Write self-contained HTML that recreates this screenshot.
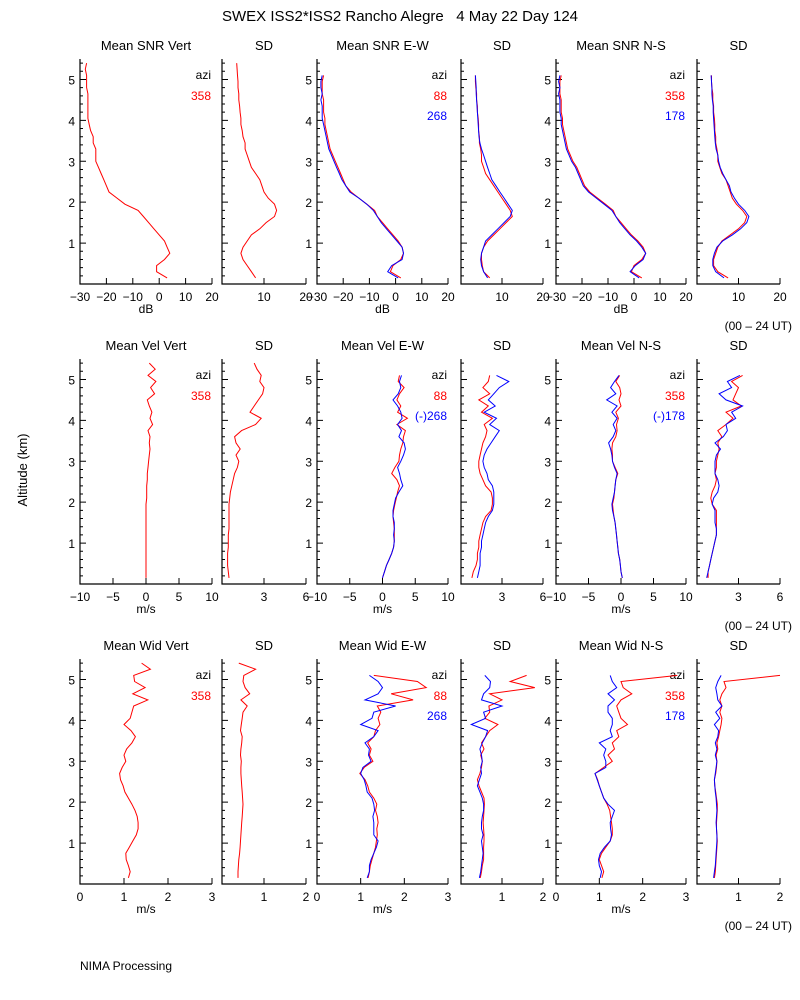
<!DOCTYPE html>
<html><head><meta charset="utf-8"><style>
html,body{margin:0;padding:0;background:#fff;}
svg{display:block;font-family:"Liberation Sans",sans-serif;}
</style></head><body>
<svg id="chart" width="800" height="1000" viewBox="0 0 800 1000" xmlns="http://www.w3.org/2000/svg">
<rect width="800" height="1000" fill="#fff"/>
<text x="400" y="21" font-size="15" text-anchor="middle" style="white-space:pre">SWEX ISS2*ISS2 Rancho Alegre   4 May 22 Day 124</text>
<text x="27" y="470" font-size="13" text-anchor="middle" transform="rotate(-90 27 470)">Altitude (km)</text>
<text x="80" y="970" font-size="12">NIMA Processing</text>
<text x="792" y="330" font-size="12" text-anchor="end">(00 – 24 UT)</text>
<text x="792" y="630" font-size="12" text-anchor="end">(00 – 24 UT)</text>
<text x="792" y="930" font-size="12" text-anchor="end">(00 – 24 UT)</text>
<g id="plots"></g>
</svg>
<script>
const altitudes = [0.15,0.30,0.45,0.60,0.75,0.90,1.05,1.20,1.35,1.50,1.65,1.80,1.95,2.10,2.25,2.40,2.55,2.70,2.85,3.00,3.15,3.30,3.45,3.60,3.75,3.90,4.05,4.20,4.35,4.50,4.65,4.80,4.95,5.10,5.25,5.40];

// Row 1: SNR (dB)
const snrVert = [3,-1,-1,2,4,3,2,0,-2,-4,-6,-8,-13,-16,-19,-20,-21,-22,-23,-24,-24,-24,-25,-25,-26,-26.5,-27,-27,-27,-27,-27,-27.5,-27.5,-27.5,-28,-27.5];
const snrVertSd = [8,7,6,5,4.5,5,6,7,9,10.5,12.5,13,12.5,11,10,9.5,9,8,7,6.5,6,5.5,5.5,5,4.8,4.5,4.5,4.3,4.2,4,4,3.8,3.8,3.7,3.6,3.5];
const snrEw88 = [2,-2,-1,2,3,2.5,1,-1,-3,-5,-7,-8,-11,-14,-17,-19,-20,-21,-22,-23,-24,-25,-25.5,-26,-26.5,-27,-27,-27.5,-27.5,-27.5,-28,-28,-28,-27.5];
const snrEw268 = [1,-3,-1.5,2.5,3,2.5,0.5,-1.5,-3.5,-5.5,-7,-8.5,-11,-14,-17.5,-19,-20.5,-21.5,-22.5,-23.5,-24.5,-25.5,-26,-26.5,-27,-27.5,-28,-28,-28,-28.5,-28,-28.5,-28.5,-28];
const snrEwSd88 = [7,5.5,5.2,5,5,5.5,6.5,8,9.5,11,12.5,12,11,10,9,8,7,6,5.5,5,5,4.8,4.5,4.5,4.3,4.3,4.2,4,4,3.8,3.8,3.6,3.5,3.5];
const snrEwSd268 = [6.5,5.5,5,4.8,5,5.5,6,7.5,9,10.5,12,12.5,11.5,10.5,9.5,8.5,7.5,7,6.5,6,5.5,5,4.6,4.4,4.3,4.2,4.1,4,3.9,3.8,3.7,3.7,3.6,3.5];
const snrNs358 = [3,-1,0,3,4.5,3.5,1.5,-1,-3,-5,-7,-8,-11,-14,-17,-19,-20,-21,-22,-23.5,-24.5,-25.5,-26,-26.5,-27,-27.5,-27.5,-28,-28,-28,-28.5,-28.5,-28.5,-28];
const snrNs178 = [2,-1.5,0.5,3.5,4.5,3,1,-1.5,-3.5,-5.5,-7,-8.5,-11.5,-14.5,-17.5,-19.5,-20.5,-21.5,-22.5,-24,-25,-26,-26.5,-27,-27.5,-28,-28,-28.5,-28.5,-28.5,-29,-28.5,-29,-28.5];
const snrNsSd358 = [7.5,5,4,4,4.5,5,6,8,10,11.5,12,11,9.5,8.5,8,7.5,7,6,5.5,5,5,4.8,4.5,4.5,4.3,4.3,4.2,4,4,3.8,3.8,3.6,3.5,3.5];
const snrNsSd178 = [6.5,4.5,3.8,3.8,4.2,4.8,6.2,8.5,10.5,12,12.5,11.5,10,9,8.2,7.8,7,6.2,5.6,5.2,5,4.6,4.4,4.3,4.2,4.1,4,3.9,3.9,3.7,3.6,3.6,3.5,3.4];

// Row 2: velocity (m/s)
const velVert = [0,0,0,0,0,0,0,0,0,0,0,0,0,0.1,0.1,0.1,0.2,0.2,0.3,0.4,0.5,0.6,0.5,0.6,0.3,1,0.6,0.9,0.5,0.2,1.3,0.7,1.5,0.3,1.4,0.5];
const velVertSd = [0.5,0.45,0.4,0.4,0.4,0.45,0.45,0.45,0.5,0.5,0.5,0.5,0.5,0.55,0.6,0.7,0.8,0.9,1.1,1.2,1.0,1.3,1.0,0.9,1.4,2.4,2.8,2.0,2.3,2.6,2.9,3.0,2.7,2.8,2.5,2.3];
const velEw88 = [0,0.3,0.6,1.0,1.4,1.7,1.8,1.8,1.8,1.7,1.6,1.7,1.9,2.1,2.3,2.6,2.2,1.4,1.9,2.5,2.6,2.8,3.1,3.2,3.5,2.2,3.8,2.3,2.8,2.2,2.6,3.3,2.4,2.6];
const velEw268 = [0,0.3,0.6,1.0,1.4,1.7,1.8,1.7,1.8,1.8,1.6,1.6,1.8,2.0,2.5,3.1,2.8,2.6,2.3,2.8,3.2,3.5,3.3,2.5,2.9,2.3,3.0,2.8,2.3,1.6,2.4,2.8,2.6,2.9];
const velEwSd88 = [0.8,0.9,1.1,1.2,1.2,1.3,1.3,1.4,1.5,1.6,1.8,2.2,2.3,2.3,2.2,1.8,1.6,1.4,1.3,1.3,1.4,1.5,1.6,1.8,1.9,1.7,2.3,1.5,2.0,1.3,2.1,1.6,2.0,2.1];
const velEwSd268 = [1.2,1.3,1.4,1.4,1.4,1.5,1.5,1.6,1.7,1.8,2.0,2.3,2.4,2.4,2.4,2.3,2.0,1.9,1.7,1.6,1.7,1.9,2.2,2.5,2.8,2.1,2.6,1.7,2.5,2.0,2.4,2.8,3.5,2.6];
const velNs358 = [0.2,0,-0.1,-0.2,-0.4,-0.5,-0.6,-0.7,-0.8,-0.9,-1.1,-1.2,-1.3,-1.1,-1.0,-0.9,-0.8,-0.5,-0.9,-1.3,-1.3,-1.4,-1.3,-0.8,-0.6,-0.7,-0.4,-0.8,0,-0.3,0,-0.2,-0.8,-0.2];
const velNs178 = [0.2,0,-0.1,-0.2,-0.4,-0.5,-0.6,-0.7,-0.8,-0.9,-1.1,-1.3,-1.4,-1.2,-1.0,-0.9,-0.8,-0.6,-1.0,-1.3,-1.4,-1.6,-1.9,-1.2,-0.8,-1.2,-0.6,-1.4,-0.6,-2.2,-0.8,-1.6,-1.0,-0.3];
const velNsSd358 = [0.8,0.8,0.9,1.0,1.1,1.2,1.3,1.4,1.4,1.4,1.4,1.4,1.1,1.0,1.1,1.3,1.4,1.3,1.4,1.4,1.5,1.6,1.5,1.8,1.5,2.1,2.6,2.1,3.2,2.6,2.8,3.0,2.5,3.3];
const velNsSd178 = [0.7,0.8,0.9,1.0,1.1,1.2,1.3,1.4,1.4,1.3,1.3,1.3,1.1,1.2,1.5,1.6,1.5,1.3,1.3,1.3,1.4,1.7,1.3,1.9,2.2,2.1,2.8,2.5,3.3,2.1,1.6,2.5,2.2,3.1];

// Row 3: spectral width (m/s)
const widVert = [1.1,1.14,1.1,1.05,1.04,1.12,1.2,1.28,1.32,1.32,1.3,1.25,1.18,1.1,1.02,0.98,0.92,0.9,0.96,1.04,1.0,1.06,1.18,1.26,1.16,1.0,1.14,1.18,1.22,1.54,1.2,1.48,1.24,1.22,1.6,1.4];
const widVertSd = [0.38,0.38,0.39,0.4,0.42,0.43,0.44,0.45,0.46,0.47,0.48,0.49,0.5,0.49,0.48,0.47,0.46,0.45,0.45,0.46,0.44,0.45,0.47,0.48,0.44,0.46,0.48,0.5,0.6,0.45,0.66,0.55,0.5,0.52,0.8,0.4];
const widEw88 = [1.17,1.2,1.22,1.26,1.3,1.34,1.36,1.38,1.37,1.4,1.38,1.34,1.37,1.3,1.2,1.16,1.1,0.98,1.08,1.28,1.2,1.24,1.16,1.3,1.34,1.44,1.4,1.46,1.38,2.2,1.7,2.5,2.3,1.3];
const widEw268 = [1.15,1.2,1.2,1.24,1.3,1.36,1.4,1.3,1.3,1.3,1.28,1.32,1.3,1.26,1.15,1.12,1.08,1.0,1.05,1.24,1.18,1.2,1.1,1.3,1.4,1.0,1.26,1.3,1.8,1.1,1.4,1.5,1.4,1.2];
const widEwSd88 = [0.47,0.5,0.52,0.55,0.55,0.55,0.56,0.56,0.55,0.54,0.55,0.56,0.57,0.56,0.5,0.44,0.4,0.46,0.5,0.52,0.48,0.56,0.5,0.6,0.7,0.9,0.58,0.7,0.68,1.0,0.7,1.8,1.2,1.6];
const widEwSd268 = [0.45,0.48,0.5,0.52,0.54,0.52,0.5,0.54,0.5,0.5,0.52,0.55,0.55,0.52,0.46,0.4,0.45,0.5,0.48,0.52,0.5,0.46,0.52,0.6,0.65,0.25,0.6,0.55,1.0,0.5,0.55,0.7,0.72,0.58];
const widNs358 = [1.06,1.1,1.05,1.0,1.05,1.15,1.25,1.3,1.3,1.28,1.26,1.24,1.18,1.1,1.05,1.0,0.96,0.9,1.1,1.3,1.2,1.35,1.3,1.45,1.4,1.65,1.5,1.45,1.4,1.5,1.75,1.55,1.5,2.8];
const widNs178 = [1.02,1.05,1.0,0.98,1.02,1.12,1.25,1.28,1.26,1.25,1.3,1.35,1.2,1.1,1.05,1.0,0.95,0.9,1.15,1.15,1.1,1.15,1.0,1.3,1.25,1.3,1.3,1.2,1.2,1.35,1.2,1.4,1.3,1.25];
const widNsSd358 = [0.42,0.44,0.45,0.46,0.47,0.48,0.49,0.48,0.47,0.47,0.48,0.49,0.49,0.47,0.45,0.43,0.42,0.45,0.47,0.48,0.46,0.5,0.48,0.52,0.55,0.58,0.6,0.55,0.6,0.55,0.6,0.7,0.65,2.0];
const widNsSd178 = [0.4,0.42,0.44,0.45,0.46,0.47,0.48,0.48,0.47,0.46,0.47,0.48,0.47,0.46,0.44,0.43,0.42,0.44,0.46,0.48,0.44,0.48,0.44,0.5,0.52,0.42,0.55,0.45,0.6,0.5,0.48,0.45,0.5,0.58];

const panelTitles = [
  ["Mean SNR Vert","SD","Mean SNR E-W","SD","Mean SNR N-S","SD"],
  ["Mean Vel Vert","SD","Mean Vel E-W","SD","Mean Vel N-S","SD"],
  ["Mean Wid Vert","SD","Mean Wid E-W","SD","Mean Wid N-S","SD"]];
const meanTicks = [[-30,-20,-10,0,10,20],[-10,-5,0,5,10],[0,1,2,3]];
const sdTicks = [[10,20],[3,6],[1,2]];
const meanDomains = [[-30,20],[-10,10],[0,3]];
const sdDomains = [[0,20],[0,6],[0,2]];
const units = ["dB","m/s","m/s"];
const altTicks = [1,2,3,4,5];
const legendEw = [["88","268"],["88","(-)268"],["88","268"]];
const legendNs = [["358","178"],["358","(-)178"],["358","178"]];
const rowSeries = [
  [[snrVert],[snrVertSd],[snrEw88,snrEw268],[snrEwSd88,snrEwSd268],[snrNs358,snrNs178],[snrNsSd358,snrNsSd178]],
  [[velVert],[velVertSd],[velEw88,velEw268],[velEwSd88,velEwSd268],[velNs358,velNs178],[velNsSd358,velNsSd178]],
  [[widVert],[widVertSd],[widEw88,widEw268],[widEwSd88,widEwSd268],[widNs358,widNs178],[widNsSd358,widNsSd178]]];

const NS = "http://www.w3.org/2000/svg";
const root = document.getElementById("plots");
const panelX = [[80,212],[222,306],[317,448],[461,543],[556,686],[697,780]];
const colors = ["#ff0000","#0000ff"];
function mk(tag, attrs, parent){ const e=document.createElementNS(NS,tag); for(const k in attrs) e.setAttribute(k,attrs[k]); (parent||root).appendChild(e); return e; }

for(let r=0;r<3;r++){
  const top=59+300*r, bot=284+300*r;
  const yScale = a => bot - (a/5.5)*(bot-top);
  for(let p=0;p<6;p++){
    const isMean = p%2===0;
    const dom = isMean?meanDomains[r]:sdDomains[r];
    const [x0,x1]=panelX[p];
    const xScale = v => x0 + (v-dom[0])/(dom[1]-dom[0])*(x1-x0);
    const g = mk("g",{});
    
    
    const t = mk("text",{x:(x0+x1)/2,y:top-9,"font-size":13,"text-anchor":"middle"},g);
    t.textContent = panelTitles[r][p];
    
    
    const ax = mk("path",{d:`M${x0} ${top}V${bot}H${x1}`,stroke:"#000",fill:"none","stroke-width":1.2},g);
    
    
    let d="";
    for(let k=1;k<=27;k++){ const a=k*0.2; const y=yScale(a); const major=Math.abs(a-Math.round(a))<1e-6; d+=`M${x0} ${y}h${major?6:3}`; }
    const yt = mk("path",{d:d,stroke:"#000","stroke-width":1},g);
    
    
    if(isMean){
      altTicks.forEach(a=>{ const l=mk("text",{x:x0-5,y:yScale(a)+5,"font-size":12,"text-anchor":"end"},g); l.textContent=a;
        
         });
    }
    const ticks = isMean?meanTicks[r]:sdTicks[r];
    let dx="";
    ticks.forEach(v=>{ const x=xScale(v); dx+=`M${x} ${bot}v-6`;
      const l=mk("text",{x:x,y:bot+17,"font-size":12,"text-anchor":"middle"},g); l.textContent=String(v).replace("-","\u2212");
      
       });
    const xt = mk("path",{d:dx,stroke:"#000","stroke-width":1},g);
    
    
    if(isMean){
      const u=mk("text",{x:(x0+x1)/2,y:bot+29,"font-size":12,"text-anchor":"middle"},g); u.textContent=units[r];
      
      
      const lab = p===0?["358"]:(p===2?legendEw[r]:legendNs[r]);
      const az=mk("text",{x:x1-1,y:top+20,"font-size":12,"text-anchor":"end"},g); az.textContent="azi";
      
      
      lab.forEach((s,i)=>{ const l=mk("text",{x:x1-1,y:top+41+20*i,"font-size":12,"text-anchor":"end",fill:colors[i]},g); l.textContent=s;
        
         });
    }
    rowSeries[r][p].forEach((vals,si)=>{
      const pts = vals.map((v,i)=>xScale(v).toFixed(1)+","+yScale(altitudes[i]).toFixed(1)).join(" ");
      const pl = mk("polyline",{points:pts,fill:"none",stroke:colors[si],"stroke-width":1},g);
      
      
    });
  }
}
</script>
</body></html>
